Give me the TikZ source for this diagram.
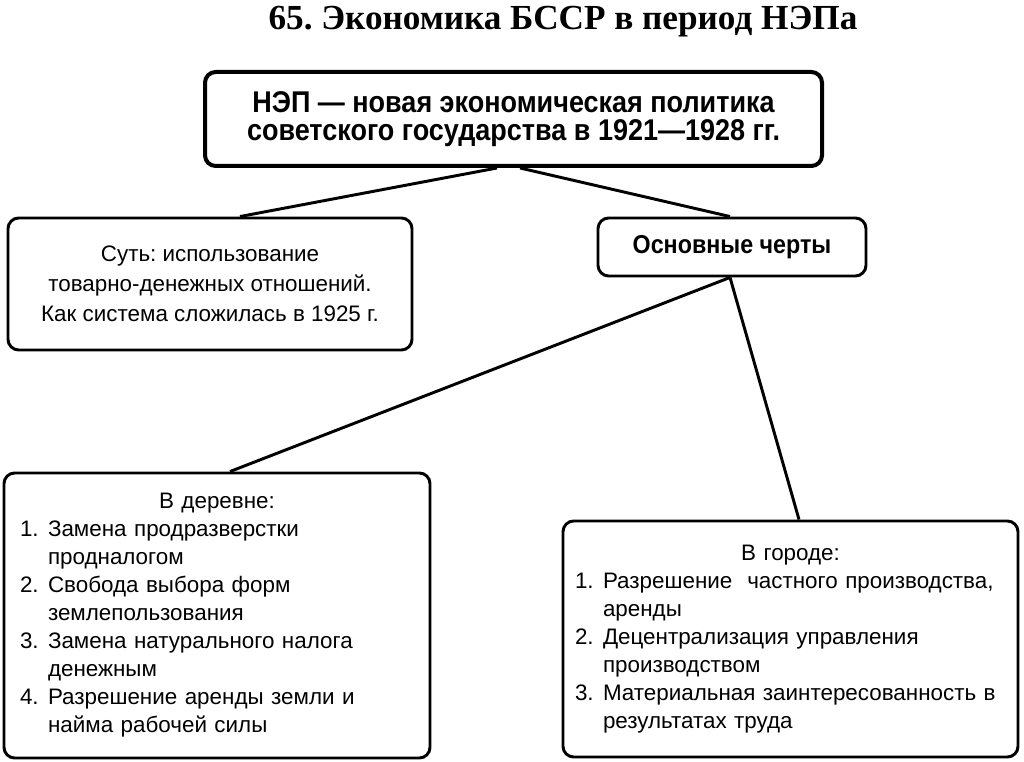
\documentclass[tikz,border=0pt]{standalone}
\usepackage{fontspec}
\setmainfont{Liberation Serif}
\newfontfamily\narrowsans[FakeStretch=0.9]{Liberation Sans}
\newfontfamily\plainsans{Liberation Sans}
\usetikzlibrary{calc}
\newcommand{\numb}[1]{\makebox[21pt][l]{#1}}
\newcommand{\cont}{\hspace*{21pt}}
\frenchspacing

\begin{document}
\begin{tikzpicture}[x=0.75pt,y=-0.75pt]
  \tikzset{
    box/.style={draw=black,line width=2.2pt,rounded corners=8pt,inner sep=0pt,
      font=\plainsans\fontsize{16.8}{21}\selectfont},
    head/.style={box,line width=3pt,align=center,
      font=\narrowsans\bfseries\fontsize{22.5}{21}\selectfont},
    list/.style={box,align=left,inner xsep=12pt},
    link/.style={draw=black,line width=2.2pt},
  }
  \useasboundingbox (0,0) rectangle (1024,762);

  \node[font=\bfseries\fontsize{26.4}{30}\selectfont,anchor=base] (title) at (563,30)
    {65. Экономика БССР в период НЭПа};

  \node[head,minimum width=462.75pt,minimum height=70.5pt] (nep) at (513.5,119)
    {НЭП — новая экономическая политика\\советского государства в 1921—1928 гг.};
  \node[box,align=center,minimum width=303pt,minimum height=99pt,
    font=\plainsans\fontsize{16.8}{22.5}\selectfont] (essence) at (210,284)
    {Суть: использование\\товарно-денежных отношений.\\Как система сложилась в 1925 г.};
  \node[box,minimum width=201pt,minimum height=43.5pt,
    font=\narrowsans\bfseries\fontsize{19.4}{20}\selectfont] (traits) at (732,247)
    {Основные черты};

  \node[list,text width=295.5pt,minimum height=213.75pt] (village) at (217,615.5)
    {\makebox[\linewidth]{В деревне:}\\
     \numb{1.}Замена продразверстки\\
     \cont продналогом\\
     \numb{2.}Свобода выбора форм\\
     \cont землепользования\\
     \numb{3.}Замена натурального налога\\
     \cont денежным\\
     \numb{4.}Разрешение аренды земли и\\
     \cont найма рабочей силы};
  \node[list,inner xsep=9pt,text width=323.25pt,minimum height=177pt] (town) at (790.5,639)
    {\makebox[\linewidth]{В городе:}\\
     \numb{1.}Разрешение\ \ частного производства,\\
     \cont аренды\\
     \numb{2.}Децентрализация управления\\
     \cont производством\\
     \numb{3.}Материальная заинтересованность в\\
     \cont результатах труда};

  \draw[link] ($(nep.south)+(-16.5,0)$) -- ($(essence.north)+(30,0)$);
  \draw[link] ($(nep.south)+(6.5,0)$) -- ($(traits.north)+(-2,0)$);
  \draw[link] ($(traits.south)+(-2,0)$) -- ($(village.north)+(13,0)$);
  \draw[link] ($(traits.south)+(-2,0)$) -- ($(town.north)+(8.5,0)$);
\end{tikzpicture}
\end{document}
